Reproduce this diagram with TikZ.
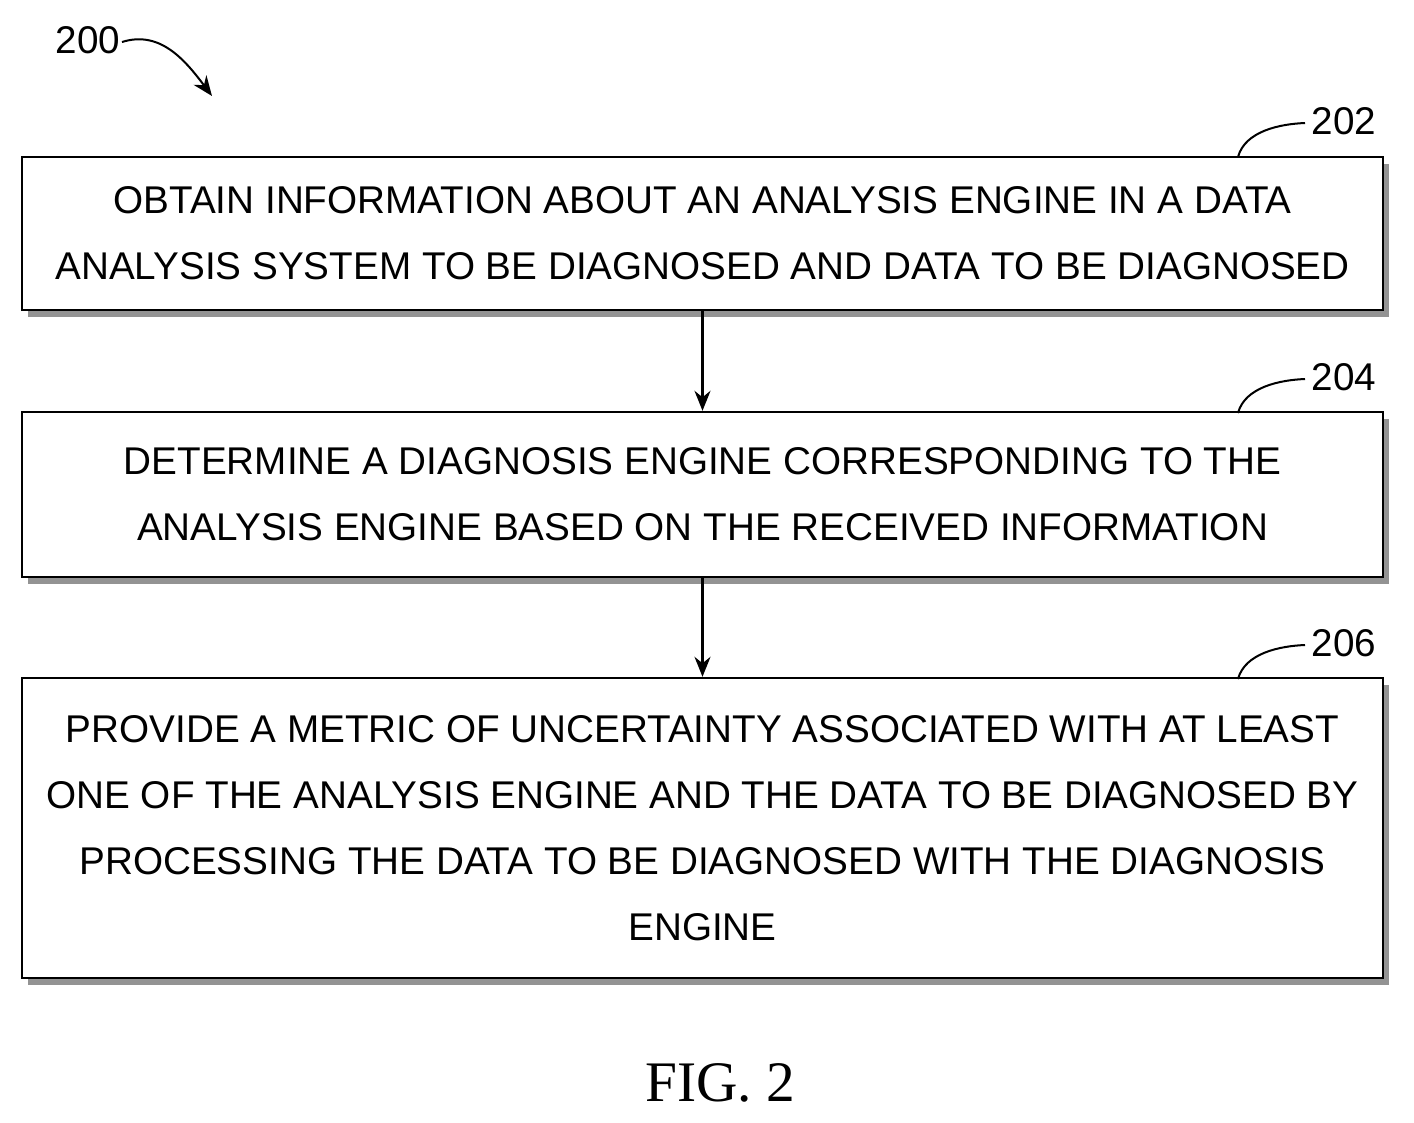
\documentclass[tikz,border=0pt]{standalone}
\usepackage{fontspec}
\setmainfont{Liberation Sans}
\newfontfamily\figfont{Liberation Serif}
\usetikzlibrary{arrows.meta,shadows}
\newlength{\du}
\setlength{\du}{0.75pt}
\tikzset{
  stepbox/.style={draw, line width=1.8pt, fill=white, align=center, inner sep=0pt,
    font=\fontsize{29}{49.5}\selectfont, minimum width=1020.75pt,
    drop shadow={shadow xshift=4.5pt, shadow yshift=-5.2pt, fill=gray!85, opacity=1}},
  flow/.style={-{Stealth[length=15pt,width=12pt]}, line width=1.7pt},
  refnum/.style={font=\fontsize{29}{30}\selectfont, inner sep=0pt},
  leader/.style={line width=1.5pt}
}
\begin{document}
\begin{tikzpicture}[x=0.75pt,y=-0.75pt]
\useasboundingbox (0,0) rectangle (1414,1122);
% label of the figure
\node[refnum] (n200) at (88,40) {200};
\coordinate (a200) at (212,96);
\draw[leader,-{Stealth[length=15pt,width=12pt]}] (122,42) .. controls (160,30) and (185,60) .. (a200);
% step boxes
\node[stepbox, minimum height=114.75pt] (s202) at (702.5,233.5)
  {OBTAIN INFORMATION ABOUT AN ANALYSIS ENGINE IN A DATA\\ANALYSIS SYSTEM TO BE DIAGNOSED AND DATA TO BE DIAGNOSED};
\node[stepbox, minimum height=123.75pt] (s204) at (702.5,494.5)
  {DETERMINE A DIAGNOSIS ENGINE CORRESPONDING TO THE\\ANALYSIS ENGINE BASED ON THE RECEIVED INFORMATION};
\node[stepbox, minimum height=225pt] (s206) at (702.5,828)
  {PROVIDE A METRIC OF UNCERTAINTY ASSOCIATED WITH AT LEAST\\ONE OF THE ANALYSIS ENGINE AND THE DATA TO BE DIAGNOSED BY\\PROCESSING THE DATA TO BE DIAGNOSED WITH THE DIAGNOSIS\\ENGINE};
% reference numbers
\foreach \n/\y in {202/121,204/377,206/643}{
  \node[refnum] (r\n) at (1344,\y) {\n};
  \draw[leader] (1238,\y+36) .. controls (1245,\y+10) and (1280,\y+3) .. (1305,\y+2);
}
% connectors
\draw[flow] (s202.south) -- (s204.north);
\draw[flow] (s204.south) -- (s206.north);
\node[font=\figfont\fontsize{43}{46}\selectfont] (fig) at (720,1083) {FIG. 2};
\end{tikzpicture}
\end{document}
